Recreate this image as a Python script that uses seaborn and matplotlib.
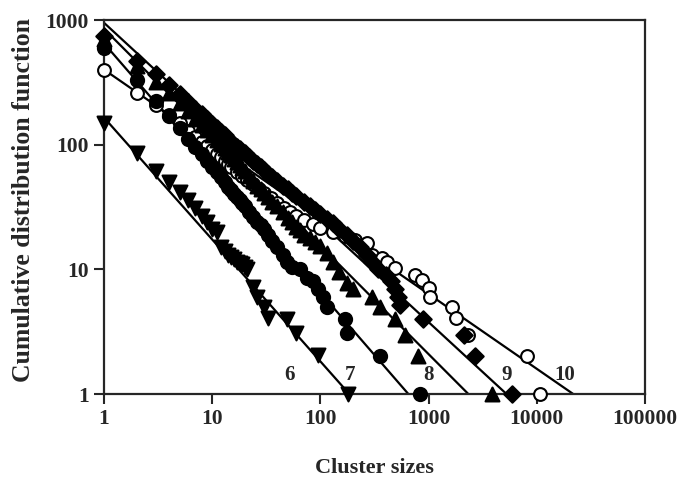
import numpy as np
import pandas as pd
import matplotlib
matplotlib.use("Agg")
import matplotlib.pyplot as plt
import seaborn as sns

# ---- data ----
s6_x = [1, 2, 3, 4, 5, 6, 7, 8, 9, 10, 11, 12, 13, 14, 15, 16, 17, 18, 19, 20, 21, 24, 26, 30, 33, 49, 60, 95, 180]
s6_y = [150, 86, 62, 50, 42, 36, 31, 27, 24, 21, 20, 15, 14, 13, 12.5, 12, 11.5, 11.2, 11, 10.5, 10, 7.2, 6, 5, 4.1, 4, 3.1, 2.05, 1]

s7_x = [1, 2, 3, 4, 5, 6, 7, 8, 9, 10, 11, 12, 13, 14, 15, 16, 17, 18, 19, 20, 22, 24, 26, 28, 30, 33, 36, 40, 45, 49, 55, 65, 75, 85, 95, 105, 114, 168, 176, 356, 830]
s7_y = [600, 330, 225, 170, 135, 112, 96, 84, 74, 66, 60, 55, 50, 46, 43, 40, 38, 36, 34, 32, 29, 26.5, 24, 22.5, 21, 19, 17, 15, 13, 11.5, 10.5, 10, 8.5, 8, 7, 6, 5, 4, 3.1, 2, 1]

s8_x = [1, 2, 3, 4, 5, 6, 7, 8, 9, 10, 11, 12, 13, 14, 15, 16, 17, 18, 19, 20, 22, 24, 26, 28, 30, 33, 36, 40, 45, 50, 55, 60, 65, 70, 80, 90, 100, 115, 130, 150, 175, 200, 300, 355, 490, 600, 800, 3860]
s8_y = [700, 430, 320, 260, 215, 185, 162, 145, 131, 120, 110, 101, 94, 88, 82, 77, 73, 69, 65, 62, 56, 51, 47, 44, 41, 38, 35, 32, 29, 26, 24, 22, 20.5, 19, 18, 16.5, 15.5, 13.5, 11.5, 9.5, 7.8, 7, 6, 5, 4, 3, 2, 1]

s9_x = [1, 2, 3, 4, 5, 6, 7, 8, 9, 10, 11, 12, 13, 14, 15, 16, 17, 18, 19, 20, 22, 24, 26, 28, 30, 33, 36, 40, 45, 50, 55, 60, 70, 80, 90, 100, 115, 130, 150, 175, 200, 230, 270, 300, 340, 400, 450, 490, 520, 540, 890, 2140, 2700, 5900]
s9_y = [750, 470, 370, 300, 255, 220, 195, 175, 160, 147, 136, 127, 119, 112, 106, 100, 96, 92, 88, 85, 79, 74, 70, 66, 63, 58, 55, 51, 47, 44, 41, 39, 35, 32, 30, 28, 25.5, 23.5, 21, 19, 17, 15, 13, 11.5, 10, 9, 8, 7, 6, 5.2, 4, 3, 2, 1]

s10_x = [1, 2, 3, 4, 5, 6, 7, 8, 9, 10, 11, 12, 13, 14, 15, 17, 19, 21, 24, 27, 30, 35, 40, 46, 52, 60, 70, 85, 100, 130, 170, 208, 270, 300, 370, 410, 490, 750, 870, 1000, 1030, 1650, 1780, 2300, 8150, 10800]
s10_y = [400, 258, 208, 172, 148, 128, 115, 105, 97, 90, 84, 79, 74, 70, 66, 60, 56, 52, 48, 44, 41, 37, 34, 31, 29, 27, 25, 23, 21.5, 20, 18.5, 17.2, 16.2, 13, 12.3, 11.4, 10.2, 9, 8.2, 7.1, 6, 5, 4.1, 3, 2, 1]

series_names = ["6", "7", "8", "9", "10"]
series_x = [s6_x, s7_x, s8_x, s9_x, s10_x]
series_y = [s6_y, s7_y, s8_y, s9_y, s10_y]
# fitted power-law lines: value at size 1 and size where the line reaches 1
fit_y_at_1 = [165, 650, 850, 950, 400]
fit_x_at_1 = [185, 650, 2330, 5250, 21700]
# label positions of the series numbers
label_x = [52, 188, 1000, 5300, 18000]
label_y = [1.42, 1.42, 1.42, 1.42, 1.42]

x_ticks = [1, 10, 100, 1000, 10000, 100000]
x_ticklabels = ["1", "10", "100", "1000", "10000", "100000"]
y_ticks = [1, 10, 100, 1000]
y_ticklabels = ["1", "10", "100", "1000"]

markers = ["v", "o", "^", "D", "o"]
facecolors = ["black", "black", "black", "black", "white"]
msizes = [100, 90, 100, 70, 85]
zorders = [3.2, 3.3, 3.4, 3.5, 3.0]

# ---- build tables ----
pts = pd.concat([pd.DataFrame({"size": x, "cdf": y, "series": n})
                 for n, x, y in zip(series_names, series_x, series_y)], ignore_index=True)
lines = pd.concat([pd.DataFrame({"size": [1, xe], "cdf": [y1, 1], "series": n})
                   for n, y1, xe in zip(series_names, fit_y_at_1, fit_x_at_1)], ignore_index=True)

sns.set_style("ticks")
plt.rcParams["font.family"] = ["Liberation Serif", "DejaVu Serif"]
plt.rcParams["font.weight"] = "bold"

fig = plt.figure(figsize=(6.85, 4.88), dpi=100)
ax = fig.add_axes([104 / 685, 1 - 394 / 488, (645 - 104) / 685, (394 - 20) / 488])

for n in series_names:
    sub = lines[lines.series == n]
    sns.lineplot(data=sub, x="size", y="cdf", ax=ax, color="black", lw=1.6,
                 legend=False, estimator=None, sort=False)

for n, m, fc, s, z in zip(series_names, markers, facecolors, msizes, zorders):
    sub = pts[pts.series == n]
    sns.scatterplot(data=sub, x="size", y="cdf", ax=ax, marker=m, s=s,
                    facecolor=fc, edgecolor="black", linewidth=1.5,
                    legend=False, clip_on=False, zorder=z)

ax.set_xscale("log")
ax.set_yscale("log")
ax.set_xlim(1, 100000)
ax.set_ylim(1, 1000)
ax.set_xticks(x_ticks)
ax.set_xticklabels(x_ticklabels)
ax.set_yticks(y_ticks)
ax.set_yticklabels(y_ticklabels)
ax.minorticks_off()
ax.tick_params(axis="both", direction="out", length=7, width=1.5, labelsize=15.5, pad=4)
for sp in ax.spines.values():
    sp.set_linewidth(1.6)
    sp.set_visible(True)

for t, lx, ly in zip(series_names, label_x, label_y):
    ax.text(lx, ly, t, ha="center", va="center", fontsize=15, fontweight="bold")

ax.set_xlabel("Cluster sizes", fontsize=16, fontweight="bold")
ax.set_ylabel("Cumulative distribution function", fontsize=18.5, fontweight="bold")
ax.xaxis.set_label_coords(0.5, -0.17)
ax.yaxis.set_label_coords(-0.128, 0.52)

fig.savefig("out.png", dpi=100)
